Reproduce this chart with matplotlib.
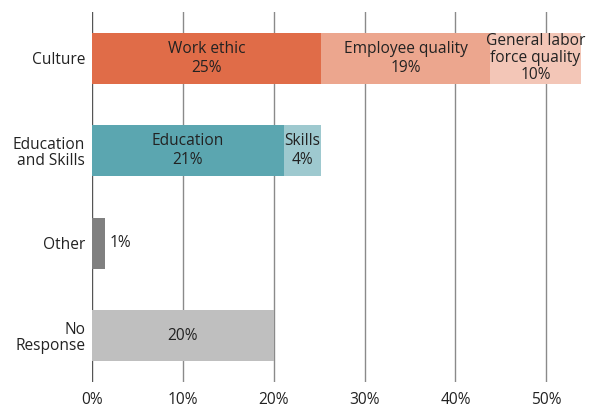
import matplotlib
matplotlib.use("Agg")
import matplotlib.pyplot as plt

plt.rcParams["font.family"] = ["Open Sans", "DejaVu Sans"]

categories = ["Culture", "Education\nand Skills", "Other", "No\nResponse"]

# Each stacked segment: (category index, label, value, colour)
segment_rows = [0, 0, 0, 1, 1, 2, 3]
segment_names = ["Work ethic", "Employee quality", "General labor\nforce quality",
                 "Education", "Skills", "", ""]
segment_values = [25.2, 18.6, 10.0, 21.1, 4.1, 1.4, 20.0]
segment_colors = ["#E06C48", "#ECA68E", "#F3C6B7",
                  "#5BA6B0", "#9EC9CF", "#808080", "#BFBFBF"]

x_ticks = [0, 10, 20, 30, 40, 50]
x_tick_labels = ["0%", "10%", "20%", "30%", "40%", "50%"]

W, H = 591, 407
fig = plt.figure(figsize=(W / 100, H / 100), dpi=100)
ax = fig.add_axes([92 / W, 1 - 382 / H, 490.6 / W, 370 / H])

text_color = "#222222"
fs = 11.2
bar_h = 0.55
lefts = {}
for row, name, val, col in zip(segment_rows, segment_names, segment_values, segment_colors):
    left = lefts.get(row, 0.0)
    ax.barh(row, val, left=left, height=bar_h, color=col, zorder=2)
    pct = f"{round(val):d}%"
    if val < 3:
        ax.text(left + val + 0.5, row, pct, ha="left", va="center",
                fontsize=fs, color=text_color, zorder=3)
    else:
        label = f"{name}\n{pct}" if name else pct
        ls = 1.08 if name.count("\n") else 1.25
        ax.text(left + val / 2, row, label, ha="center", va="center",
                fontsize=fs, color=text_color, linespacing=ls, zorder=3)
    lefts[row] = left + val

ax.set_xlim(0, 54)
ax.set_ylim(3.5, -0.5)
ax.set_yticks(range(len(categories)))
ax.set_yticklabels(categories, fontsize=fs, color=text_color, ha="right",
                   linespacing=1.06)
ax.set_xticks(x_ticks)
ax.set_xticklabels(x_tick_labels, fontsize=fs, color=text_color)
ax.tick_params(axis="both", length=0)
ax.tick_params(axis="y", pad=5)
ax.tick_params(axis="x", pad=7)

for x in x_ticks:
    ax.axvline(x, color="#555555" if x == 0 else "#8a8a8a",
               linewidth=1.0, zorder=1)

for s in ax.spines.values():
    s.set_visible(False)

fig.savefig("out.png", dpi=100)
